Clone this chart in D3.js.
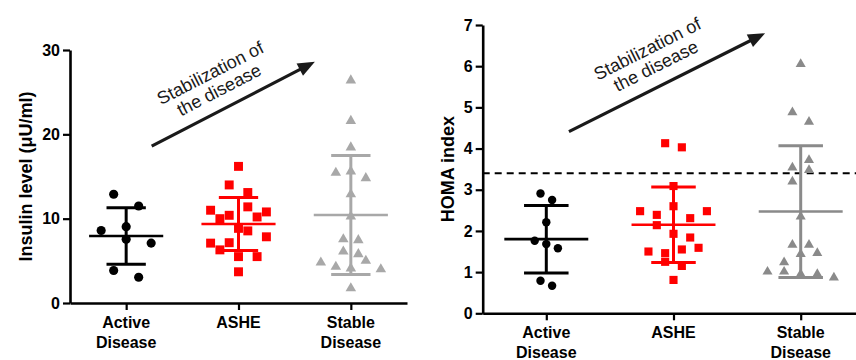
<!DOCTYPE html>
<html>
<head>
<meta charset="utf-8">
<script src="https://cdn.jsdelivr.net/npm/d3@7"></script>
<style>
  body { margin: 0; background: #fff; }
  svg { display: block; font-family: Arial, "Liberation Sans", sans-serif; }
</style>
</head>
<body>
<svg id="chart" width="856" height="360"></svg>
<script>
// categories (two-line labels)
const categories = [["Active", "Disease"], ["ASHE"], ["Stable", "Disease"]];

// insulin level (uU/ml)
const insulinActive = [12.9, 11.5, 9.05, 8.6, 7.55, 7.1, 3.85, 3.05];
const insulinActiveSlot = [-1, 1, 0, -2, 0, 2, -1, 1];
const insulinAshe = [16.2, 14.0, 13.1, 11.4, 11.0, 10.8, 10.4, 10.2, 10.0, 8.85, 8.55, 7.85, 7.15, 7.1, 6.3, 5.5, 5.5, 3.7];
const insulinAsheSlot = [0, -1, 1, 1, -3, 3, -1, 2, -2, 0, 1, 3, -1, -3, -2, 0, 2, 0];
const insulinStable = [26.4, 21.6, 18.45, 15.6, 15.45, 14.8, 12.9, 10.25, 7.55, 7.45, 6.1, 5.8, 5.0, 4.8, 4.3, 4.1, 4.0, 1.75];
const insulinStableSlot = [0, 0, 0, 0, -2, 2, 0, 0, -1, 1, -1, 1, 2, -4, -2, 0, 4, 0];
const insulinMean = [7.95, 9.37, 10.44];
const insulinSd = [3.35, 3.13, 7.05];
const insulinTicks = [0, 10, 20, 30];

// HOMA index
const homaActive = [2.91, 2.75, 2.21, 1.76, 1.68, 1.58, 0.79, 0.67];
const homaActiveSlot = [-1, 1, 0, -2, 0, 2, -1, 1];
const homaAshe = [4.13, 4.03, 3.09, 2.60, 2.48, 2.48, 2.39, 2.31, 2.14, 1.93, 1.84, 1.59, 1.55, 1.50, 1.46, 1.25, 1.15, 0.81];
const homaAsheSlot = [-1, 1, 0, 0, -4, 4, -2, 2, -2, 0, 2, 3, 1, -3, -1, -1, 1, 0];
const homaStable = [6.05, 4.88, 4.65, 3.72, 3.54, 3.48, 3.20, 2.35, 1.66, 1.66, 1.46, 1.44, 1.24, 1.01, 1.01, 0.95, 0.95, 0.87];
const homaStableSlot = [0, -1, 1, 1, -1, 1, -1, 0, -1, 1, 2, 0, -2, -4, -2, 0, 2, 4];
const homaMean = [1.80, 2.15, 2.47];
const homaSd = [0.82, 0.915, 1.6];
const homaTicks = [0, 1, 2, 3, 4, 5, 6, 7];
const homaCutoff = 3.4;

const annotationText = ["Stabilization of", "the disease"];

const svg = d3.select("#chart");

const panels = [
  {
    title: "Insulin level (\u03bcU/ml)",
    values: [insulinActive, insulinAshe, insulinStable],
    slots: [insulinActiveSlot, insulinAsheSlot, insulinStableSlot],
    slotStep: [12.5, 9.3, 7.5],
    mean: insulinMean, sd: insulinSd, ticks: insulinTicks, cutoff: null,
    xRange: [70, 407], yRange: [303, 50], yMax: 30,
    colors: ["#000000", "#ff0000", "#a8a8a8"],
    sizes: [66, 80, 48],
    titleX: 32,
    arrow: [[0.227, 18.6], [1.68, 28.6]],
    note: [0.79, 26.2]
  },
  {
    title: "HOMA index",
    values: [homaActive, homaAshe, homaStable],
    slots: [homaActiveSlot, homaAsheSlot, homaStableSlot],
    slotStep: [5.8, 8.35, 8.3],
    mean: homaMean, sd: homaSd, ticks: homaTicks, cutoff: homaCutoff,
    xRange: [482.7, 864.3], yRange: [313.3, 25], yMax: 7,
    colors: ["#000000", "#ff0000", "#8a8a8a"],
    sizes: [56, 66, 44],
    titleX: 454,
    arrow: [[0.178, 4.41], [1.72, 6.8]],
    note: [0.83, 6.2]
  }
];

const shapes = [d3.symbolCircle, d3.symbolSquare, d3.symbolTriangle];

panels.forEach(p => {
  const x = d3.scaleLinear().domain([-0.5, 2.5]).range(p.xRange);
  const y = d3.scaleLinear().domain([0, p.yMax]).range(p.yRange);
  const step = x(1) - x(0);
  const g = svg.append("g");

  // axes
  const yAxis = g.append("g")
    .attr("transform", `translate(${p.xRange[0]},0)`)
    .call(d3.axisLeft(y).tickValues(p.ticks).tickFormat(d3.format("d"))
      .tickSize(7).tickSizeOuter(0).tickPadding(3));
  const xAxis = g.append("g")
    .attr("transform", `translate(0,${p.yRange[0]})`)
    .call(d3.axisBottom(x).tickValues([0, 1, 2]).tickFormat("").tickSize(7).tickSizeOuter(0));
  [yAxis, xAxis].forEach(a => {
    a.select(".domain").attr("stroke", "#000").attr("stroke-width", 2.6);
    a.selectAll(".tick line").attr("stroke", "#000").attr("stroke-width", 2.2);
  });
  yAxis.selectAll(".tick text")
    .attr("fill", "#000").attr("font-size", 16).attr("font-weight", "bold")
    .attr("font-family", "Arial, 'Liberation Sans', sans-serif");

  // category labels
  categories.forEach((lines, i) => {
    const t = g.append("text")
      .attr("x", x(i)).attr("y", p.yRange[0] + 24.5)
      .attr("text-anchor", "middle")
      .attr("font-size", 16).attr("font-weight", "bold");
    lines.forEach((s, k) => t.append("tspan").attr("x", x(i)).attr("dy", k ? 20 : 0).text(s));
  });

  // y title
  g.append("text")
    .attr("transform", `translate(${p.titleX},${(p.yRange[0] + p.yRange[1]) / 2}) rotate(-90)`)
    .attr("text-anchor", "middle")
    .attr("font-size", 18).attr("font-weight", "bold")
    .text(p.title);

  // cutoff line
  if (p.cutoff !== null) {
    g.append("line")
      .attr("x1", p.xRange[0]).attr("x2", 856)
      .attr("y1", y(p.cutoff)).attr("y2", y(p.cutoff))
      .attr("stroke", "#000").attr("stroke-width", 2)
      .attr("stroke-dasharray", "7,5");
  }

  // points
  p.values.forEach((vals, i) => {
    g.selectAll(null)
      .data(vals.map((v, k) => ({ v, s: p.slots[i][k] })))
      .enter()
      .append("path")
      .attr("d", d3.symbol().type(shapes[i]).size(p.sizes[i]))
      .attr("transform", d => `translate(${x(i) + d.s * p.slotStep[i]},${y(d.v)})`)
      .attr("fill", p.colors[i]);
  });

  // mean and SD
  p.mean.forEach((m, i) => {
    const c = p.colors[i];
    const lo = y(m - p.sd[i]), hi = y(m + p.sd[i]);
    const cx = x(i);
    g.append("line").attr("x1", cx).attr("x2", cx).attr("y1", lo).attr("y2", hi)
      .attr("stroke", c).attr("stroke-width", 3);
    [lo, hi].forEach(yy => g.append("line")
      .attr("x1", cx - 0.175 * step).attr("x2", cx + 0.175 * step)
      .attr("y1", yy).attr("y2", yy)
      .attr("stroke", c).attr("stroke-width", 3));
    g.append("line")
      .attr("x1", cx - 0.33 * step).attr("x2", cx + 0.33 * step)
      .attr("y1", y(m)).attr("y2", y(m))
      .attr("stroke", c).attr("stroke-width", 2.6);
  });

  // arrow annotation
  const [a0, a1] = p.arrow;
  const sx = x(a0[0]), sy = y(a0[1]), ex = x(a1[0]), ey = y(a1[1]);
  const ang = Math.atan2(ey - sy, ex - sx);
  const headLen = 17, headW = 7;
  const bx = ex - headLen * Math.cos(ang), by = ey - headLen * Math.sin(ang);
  g.append("line")
    .attr("x1", sx).attr("y1", sy).attr("x2", bx + 2 * Math.cos(ang)).attr("y2", by + 2 * Math.sin(ang))
    .attr("stroke", "#1a1a1a").attr("stroke-width", 3.2);
  g.append("path")
    .attr("d", `M${ex},${ey}L${bx - headW * Math.sin(ang)},${by + headW * Math.cos(ang)}L${bx + headW * Math.sin(ang)},${by - headW * Math.cos(ang)}Z`)
    .attr("fill", "#1a1a1a");

  const note = g.append("text")
    .attr("transform", `translate(${x(p.note[0])},${y(p.note[1])}) rotate(${ang * 180 / Math.PI})`)
    .attr("text-anchor", "middle")
    .attr("font-size", 18).attr("fill", "#1a1a1a");
  annotationText.forEach((s, k) => note.append("tspan").attr("x", 0).attr("y", k ? 15 : -4).text(s));
});
</script>
</body>
</html>
